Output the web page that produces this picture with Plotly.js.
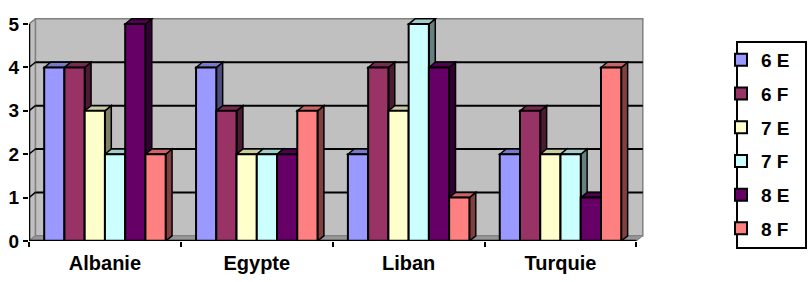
<!DOCTYPE html>
<html>
<head>
<meta charset="utf-8">
<script src="https://cdn.plot.ly/plotly-3.0.1.min.js"></script>
<style>html,body{margin:0;padding:0;background:#fff;}#chart{width:810px;height:282px;}</style>
</head>
<body>
<div id="chart"></div>
<script>
// ---- data ----
const categories = ['Albanie', 'Egypte', 'Liban', 'Turquie'];
const seriesNames = ['6 E', '6 F', '7 E', '7 F', '8 E', '8 F'];
const values6E = [4, 4, 2, 2];
const values6F = [4, 3, 4, 3];
const values7E = [3, 2, 3, 2];
const values7F = [2, 2, 5, 2];
const values8E = [5, 2, 4, 1];
const values8F = [2, 3, 1, 4];
const yTicks = [0, 1, 2, 3, 4, 5];

const seriesValues = [values6E, values6F, values7E, values7F, values8E, values8F];
const colors = ['#9999FF', '#993366', '#FFFFCC', '#CCFFFF', '#660066', '#FF8080'];

function shade(hex, f) {
  const n = parseInt(hex.slice(1), 16);
  const r = Math.round(((n >> 16) & 255) * f), g = Math.round(((n >> 8) & 255) * f), b = Math.round((n & 255) * f);
  return 'rgb(' + r + ',' + g + ',' + b + ')';
}

const bargap = 0.2;
const nS = seriesNames.length;
const w = (1 - bargap) / nS;
const dx = 0.042;   // depth (x, category units)
const dy = 0.12;    // depth (y, value units)
const yMax = yTicks[yTicks.length - 1];
const xMin = -0.5, xMax = categories.length - 0.5;

const traces = seriesNames.map((name, j) => ({
  type: 'bar',
  name: name,
  x: categories,
  y: seriesValues[j],
  legendgroup: name,
  marker: { color: colors[j], line: { color: '#000', width: 2 } },
  hoverinfo: 'skip'
}));

const shapes = [];
// back wall
shapes.push({ type: 'rect', xref: 'x', yref: 'y', x0: xMin + dx, x1: xMax + dx, y0: dy, y1: yMax + dy,
  fillcolor: '#C0C0C0', line: { color: '#808080', width: 1.5 }, layer: 'below' });
// left wall
shapes.push({ type: 'path', xref: 'x', yref: 'y',
  path: `M ${xMin},0 L ${xMin + dx},${dy} L ${xMin + dx},${yMax + dy} L ${xMin},${yMax} Z`,
  fillcolor: '#C0C0C0', line: { color: '#808080', width: 1.5 }, layer: 'below' });
// floor
shapes.push({ type: 'path', xref: 'x', yref: 'y',
  path: `M ${xMin},0 L ${xMin + dx},${dy} L ${xMax + dx},${dy} L ${xMax},0 Z`,
  fillcolor: '#969696', line: { color: '#808080', width: 1 }, layer: 'below' });
// gridlines on walls
yTicks.forEach(k => {
  if (k === 0 || k === yMax) return;
  shapes.push({ type: 'line', xref: 'x', yref: 'y', x0: xMin + dx, x1: xMax + dx, y0: k + dy, y1: k + dy,
    line: { color: '#000', width: 2 }, layer: 'below' });
  shapes.push({ type: 'line', xref: 'x', yref: 'y', x0: xMin, x1: xMin + dx, y0: k, y1: k + dy,
    line: { color: '#000', width: 1.5 }, layer: 'below' });
});
// 3D faces of bars
seriesValues.forEach((vals, j) => {
  vals.forEach((v, c) => {
    const x0 = c - (1 - bargap) / 2 + j * w;
    const x1 = x0 + w;
    shapes.push({ type: 'path', xref: 'x', yref: 'y',
      path: `M ${x1},0 L ${x1 + dx},${dy} L ${x1 + dx},${v + dy} L ${x1},${v} Z`,
      fillcolor: shade(colors[j], 0.5), line: { color: '#000', width: 1.5 }, layer: 'below' });
    shapes.push({ type: 'path', xref: 'x', yref: 'y',
      path: `M ${x0},${v} L ${x0 + dx},${v + dy} L ${x1 + dx},${v + dy} L ${x1},${v} Z`,
      fillcolor: shade(colors[j], 0.8), line: { color: '#000', width: 1.5 }, layer: 'below' });
  });
});
// axis lines
shapes.push({ type: 'line', xref: 'x', yref: 'y', x0: xMin, x1: xMax, y0: 0, y1: 0,
  line: { color: '#000', width: 2.5 }, layer: 'above' });
shapes.push({ type: 'line', xref: 'x', yref: 'y', x0: xMin, x1: xMin, y0: 0, y1: yMax,
  line: { color: '#000', width: 2.5 }, layer: 'above' });
// legend frame
shapes.push({ type: 'rect', xref: 'paper', yref: 'paper', x0: (737 - 29) / 617, x1: (806 - 29) / 617,
  y0: (241 - 248) / 223, y1: (241 - 42) / 223, line: { color: '#000', width: 2 }, fillcolor: 'rgba(0,0,0,0)' });

const fontFam = '"Liberation Sans", Arial, sans-serif';
const layout = {
  width: 810, height: 282,
  margin: { l: 29, r: 164, t: 18, b: 41 },
  paper_bgcolor: '#fff', plot_bgcolor: '#fff',
  barmode: 'group', bargap: bargap, bargroupgap: 0,
  showlegend: true,
  legend: {
    xref: 'container', yref: 'container',
    x: 721 / 810, xanchor: 'left', y: 1 - 41 / 282, yanchor: 'top',
    bgcolor: 'rgba(0,0,0,0)', borderwidth: 0,
    traceorder: 'grouped', tracegroupgap: 6,
    maxheight: 282,
    font: { family: fontFam, size: 19, color: '#000', weight: 'bold' }
  },
  xaxis: {
    type: 'category', range: [xMin, xMax + dx * 1.5],
    showgrid: false, zeroline: false, showline: false,
    ticks: 'outside', tickson: 'boundaries', ticklen: 5, tickwidth: 2, tickcolor: '#000',
    ticklabelstandoff: 8,
    tickfont: { family: fontFam, size: 20, color: '#000', weight: 'bold' },
    fixedrange: true
  },
  yaxis: {
    range: [0, yMax + 0.14],
    tickvals: yTicks,
    showgrid: false, zeroline: false, showline: false,
    ticks: 'outside', ticklen: 5, tickwidth: 2, tickcolor: '#000',
    tickfont: { family: fontFam, size: 19, color: '#000', weight: 'bold' },
    fixedrange: true
  },
  shapes: shapes
};

Plotly.newPlot('chart', traces, layout, { staticPlot: true, displayModeBar: false });
</script>
</body>
</html>
